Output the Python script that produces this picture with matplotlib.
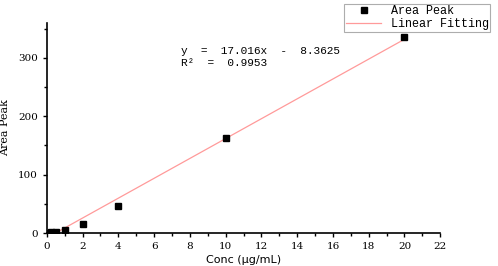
import numpy as np
import matplotlib.pyplot as plt
from matplotlib.ticker import MultipleLocator

conc = [0.1, 0.25, 0.5, 1, 2, 4, 10, 20]
area = [0.8, 1.2, 1.8, 4.5, 16, 46, 162, 336]
slope = 17.016
intercept = -8.3625
r2 = 0.9953

fig = plt.figure(figsize=(4.98, 2.66), dpi=100)
ax = fig.add_axes([0.094, 0.124, 0.79, 0.79])

xfit = np.array([conc[0], conc[-1]])
line, = ax.plot(xfit, slope * xfit + intercept, color='#ff9a9a', lw=0.9, label='Linear Fitting')
pts, = ax.plot(conc, area, 's', color='black', ms=4.5, label='Area Peak', zorder=3)

ax.set_xlim(0, 22)
ax.set_ylim(0, 360)
ax.xaxis.set_major_locator(MultipleLocator(2))
ax.xaxis.set_minor_locator(MultipleLocator(1))
ax.yaxis.set_major_locator(MultipleLocator(100))
ax.yaxis.set_minor_locator(MultipleLocator(50))
for s in ['top', 'right']:
    ax.spines[s].set_visible(False)
for s in ['left', 'bottom']:
    ax.spines[s].set_linewidth(1.2)
ax.tick_params(which='major', direction='out', length=3, width=1, labelsize=7.5)
ax.tick_params(which='minor', direction='out', length=2, width=1)
for lab in ax.get_xticklabels() + ax.get_yticklabels():
    lab.set_family('DejaVu Serif')

ax.set_xlabel('Conc (μg/mL)', fontsize=8, family='DejaVu Sans', labelpad=3)
ax.set_ylabel('Area Peak', fontsize=8, family='DejaVu Serif', labelpad=6)

ax.text(7.5, 312, f'y  =  {slope}x  -  {-intercept}', fontsize=8,
        family='Liberation Mono', va='center')
ax.text(7.5, 292, f'R²  =  {r2}', fontsize=8,
        family='Liberation Mono', va='center')

leg = fig.legend(handles=[pts, line], loc='upper right', bbox_to_anchor=(0.992, 1.0),
                 prop={'family': 'Liberation Mono', 'size': 8.5}, frameon=True, fancybox=False,
                 borderpad=0.15, labelspacing=0.05, handlelength=3, handletextpad=0.8,
                 borderaxespad=0.3, markerscale=0.9)
leg.get_frame().set_edgecolor('#999999')
leg.get_frame().set_linewidth(0.8)

fig.savefig('out.png', dpi=100)
